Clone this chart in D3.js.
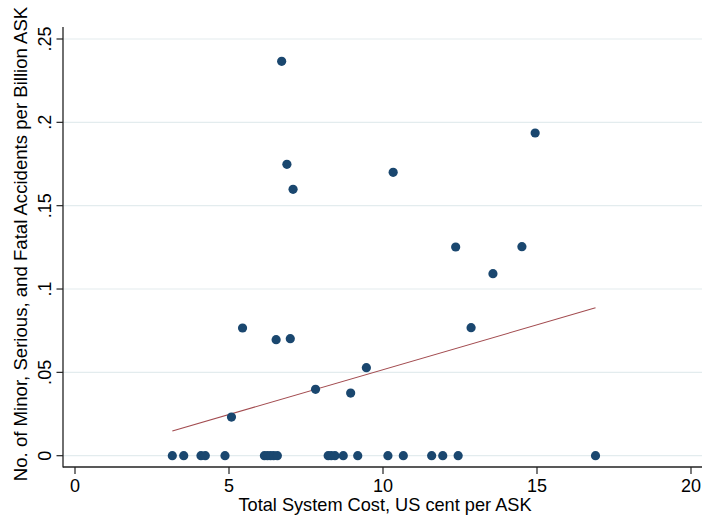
<!DOCTYPE html>
<html>
<head>
<meta charset="utf-8">
<script src="https://cdn.jsdelivr.net/npm/d3@7"></script>
<style>
  html, body { margin: 0; padding: 0; background: #fff; }
  svg { display: block; }
  text { font-family: "Liberation Sans", Arial, Helvetica, sans-serif; fill: #000; }
</style>
</head>
<body>
<svg id="chart" width="702" height="515"></svg>
<script>
// ---- Data ----
const costNonZero = [6.71, 6.88, 7.08, 10.33, 14.94, 12.36, 14.51, 13.57, 12.86, 5.44, 6.53, 6.99, 9.46, 7.81, 8.95, 5.08];
const accNonZero  = [0.2366, 0.1748, 0.1598, 0.170, 0.1936, 0.1252, 0.1254, 0.1092, 0.0768, 0.0766, 0.0696, 0.0702, 0.0528, 0.0398, 0.0376, 0.0232];
const costZero = [3.16, 3.53, 4.09, 4.23, 4.87, 6.15, 6.25, 6.35, 6.45, 6.57, 8.22, 8.32, 8.44, 8.71, 9.18, 10.16, 10.66, 11.58, 11.94, 12.44, 16.9];
const fitIntercept = -0.0022;
const fitSlope = 0.00538;
const xTicks = [0, 5, 10, 15, 20];
const xTickLabels = ["0", "5", "10", "15", "20"];
const yTicks = [0, 0.05, 0.1, 0.15, 0.2, 0.25];
const yTickLabels = ["0", ".05", ".1", ".15", ".2", ".25"];
const xTitle = "Total System Cost, US cent per ASK";
const yTitle = "No. of Minor, Serious, and Fatal Accidents per Billion ASK";

const points = costNonZero.map((c, i) => ({x: c, y: accNonZero[i]}))
  .concat(costZero.map(c => ({x: c, y: 0})));

// ---- Layout ----
const svg = d3.select("#chart");
const plotLeft = 63, plotRight = 702, plotTop = 27, plotBottom = 467;
const x = d3.scaleLinear().domain([0, 20]).range([75, 691]);
const y = d3.scaleLinear().domain([0, 0.25]).range([455.7, 39]);

// gridlines
svg.append("g").selectAll("line").data(yTicks).join("line")
  .attr("x1", plotLeft).attr("x2", plotRight)
  .attr("y1", d => y(d)).attr("y2", d => y(d))
  .attr("stroke", "#e3ecee").attr("stroke-width", 1.2);

// fitted line
const xMin = d3.min(points, d => d.x), xMax = d3.max(points, d => d.x);
svg.append("line")
  .attr("x1", x(xMin)).attr("y1", y(fitIntercept + fitSlope * xMin))
  .attr("x2", x(xMax)).attr("y2", y(fitIntercept + fitSlope * xMax))
  .attr("stroke", "#a24b4f").attr("stroke-width", 1.1);

// points
svg.append("g").selectAll("circle").data(points).join("circle")
  .attr("cx", d => x(d.x)).attr("cy", d => y(d.y)).attr("r", 4.6)
  .attr("fill", "#1a476f");

// axes lines
svg.append("line").attr("x1", plotLeft).attr("x2", plotLeft)
  .attr("y1", plotTop).attr("y2", plotBottom + 0.5)
  .attr("stroke", "#222").attr("stroke-width", 1.3);
svg.append("line").attr("x1", plotLeft).attr("x2", plotRight)
  .attr("y1", plotBottom).attr("y2", plotBottom)
  .attr("stroke", "#222").attr("stroke-width", 1.3);

// y ticks
const yg = svg.append("g");
yg.selectAll("line").data(yTicks).join("line")
  .attr("x1", plotLeft - 6.5).attr("x2", plotLeft)
  .attr("y1", d => y(d)).attr("y2", d => y(d))
  .attr("stroke", "#222").attr("stroke-width", 1.2);
yg.selectAll("text").data(yTicks).join("text")
  .attr("transform", d => `translate(51,${y(d)}) rotate(-90)`)
  .attr("text-anchor", "middle")
  .attr("font-size", 18)
  .text((d, i) => yTickLabels[i]);

// x ticks
const xg = svg.append("g");
xg.selectAll("line").data(xTicks).join("line")
  .attr("x1", d => x(d)).attr("x2", d => x(d))
  .attr("y1", plotBottom).attr("y2", plotBottom + 7)
  .attr("stroke", "#222").attr("stroke-width", 1.2);
xg.selectAll("text").data(xTicks).join("text")
  .attr("x", d => x(d)).attr("y", 492)
  .attr("text-anchor", "middle")
  .attr("font-size", 18)
  .text((d, i) => xTickLabels[i]);

// titles
svg.append("text").attr("x", 385).attr("y", 511)
  .attr("text-anchor", "middle").attr("font-size", 18.2).text(xTitle);
svg.append("text")
  .attr("transform", `translate(27,244) rotate(-90)`)
  .attr("text-anchor", "middle").attr("font-size", 18.6).text(yTitle);
</script>
</body>
</html>
